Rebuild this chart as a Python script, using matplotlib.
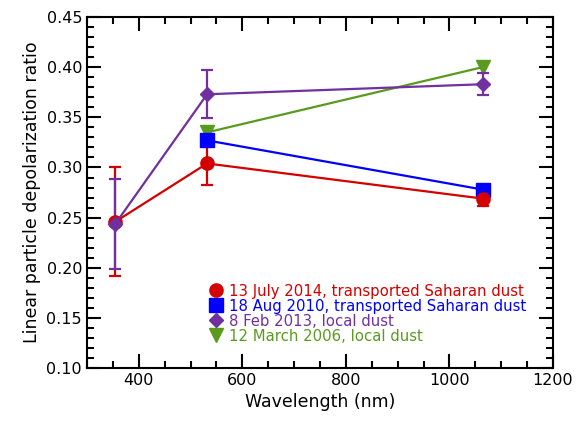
import matplotlib.pyplot as plt
from matplotlib.ticker import MultipleLocator

# Wavelengths (nm)
wl_red = [355, 532, 1064]
wl_blue = [532, 1064]
wl_purple = [355, 532, 1064]
wl_green = [532, 1064]

# Particle depolarization ratios
dep_red = [0.246, 0.304, 0.269]
err_red = [0.054, 0.021, 0.007]
dep_blue = [0.327, 0.278]
dep_purple = [0.244, 0.373, 0.383]
err_purple = [0.045, 0.024, 0.011]
dep_green = [0.335, 0.400]

labels = ['13 July 2014, transported Saharan dust',
          '18 Aug 2010, transported Saharan dust',
          '8 Feb 2013, local dust',
          '12 March 2006, local dust']

c_red = '#d40000'
c_blue = '#0000ff'
c_purple = '#7030a0'
c_green = '#5a9a1e'

fig = plt.figure(figsize=(5.76, 4.26), dpi=100)
ax = fig.add_axes([0.151, 0.136, 0.809, 0.824])

h_red = ax.errorbar(wl_red, dep_red, yerr=err_red, color=c_red, marker='o',
                    markersize=9.5, lw=1.6, capsize=4, capthick=1.6, elinewidth=1.6)
h_green, = ax.plot(wl_green, dep_green, color=c_green, marker='v',
                   markersize=9.5, lw=1.6)
h_blue, = ax.plot(wl_blue, dep_blue, color=c_blue, marker='s',
                  markersize=9.5, lw=1.6)
h_purple = ax.errorbar(wl_purple, dep_purple, yerr=err_purple, color=c_purple,
                       marker='D', markersize=7, lw=1.6, capsize=4,
                       capthick=1.6, elinewidth=1.6)

ax.set_xlim(300, 1200)
ax.set_ylim(0.10, 0.45)
ax.xaxis.set_major_locator(MultipleLocator(200))
ax.xaxis.set_minor_locator(MultipleLocator(50))
ax.yaxis.set_major_locator(MultipleLocator(0.05))
ax.yaxis.set_minor_locator(MultipleLocator(0.01))
ax.yaxis.set_major_formatter(plt.FormatStrFormatter('%.2f'))
ax.tick_params(which='both', direction='in', top=True, right=True,
               width=1.5, labelsize=11.5)
ax.tick_params(which='major', length=10)
ax.tick_params(which='minor', length=5)
for s in ax.spines.values():
    s.set_linewidth(1.5)

ax.set_xlabel('Wavelength (nm)', fontsize=12.5)
ax.set_ylabel('Linear particle depolarization ratio', fontsize=12.5)

leg = ax.legend([h_red[0], h_blue, h_purple[0], h_green], labels,
                loc='upper left', bbox_to_anchor=(0.242, 0.262), frameon=False,
                fontsize=10.7, labelspacing=0.0, handletextpad=0.3,
                handlelength=1.2, borderpad=0)
for line in leg.get_lines():
    line.set_linestyle('none')
for t, c in zip(leg.get_texts(), [c_red, c_blue, c_purple, c_green]):
    t.set_color(c)

plt.savefig('out.png', dpi=100)
